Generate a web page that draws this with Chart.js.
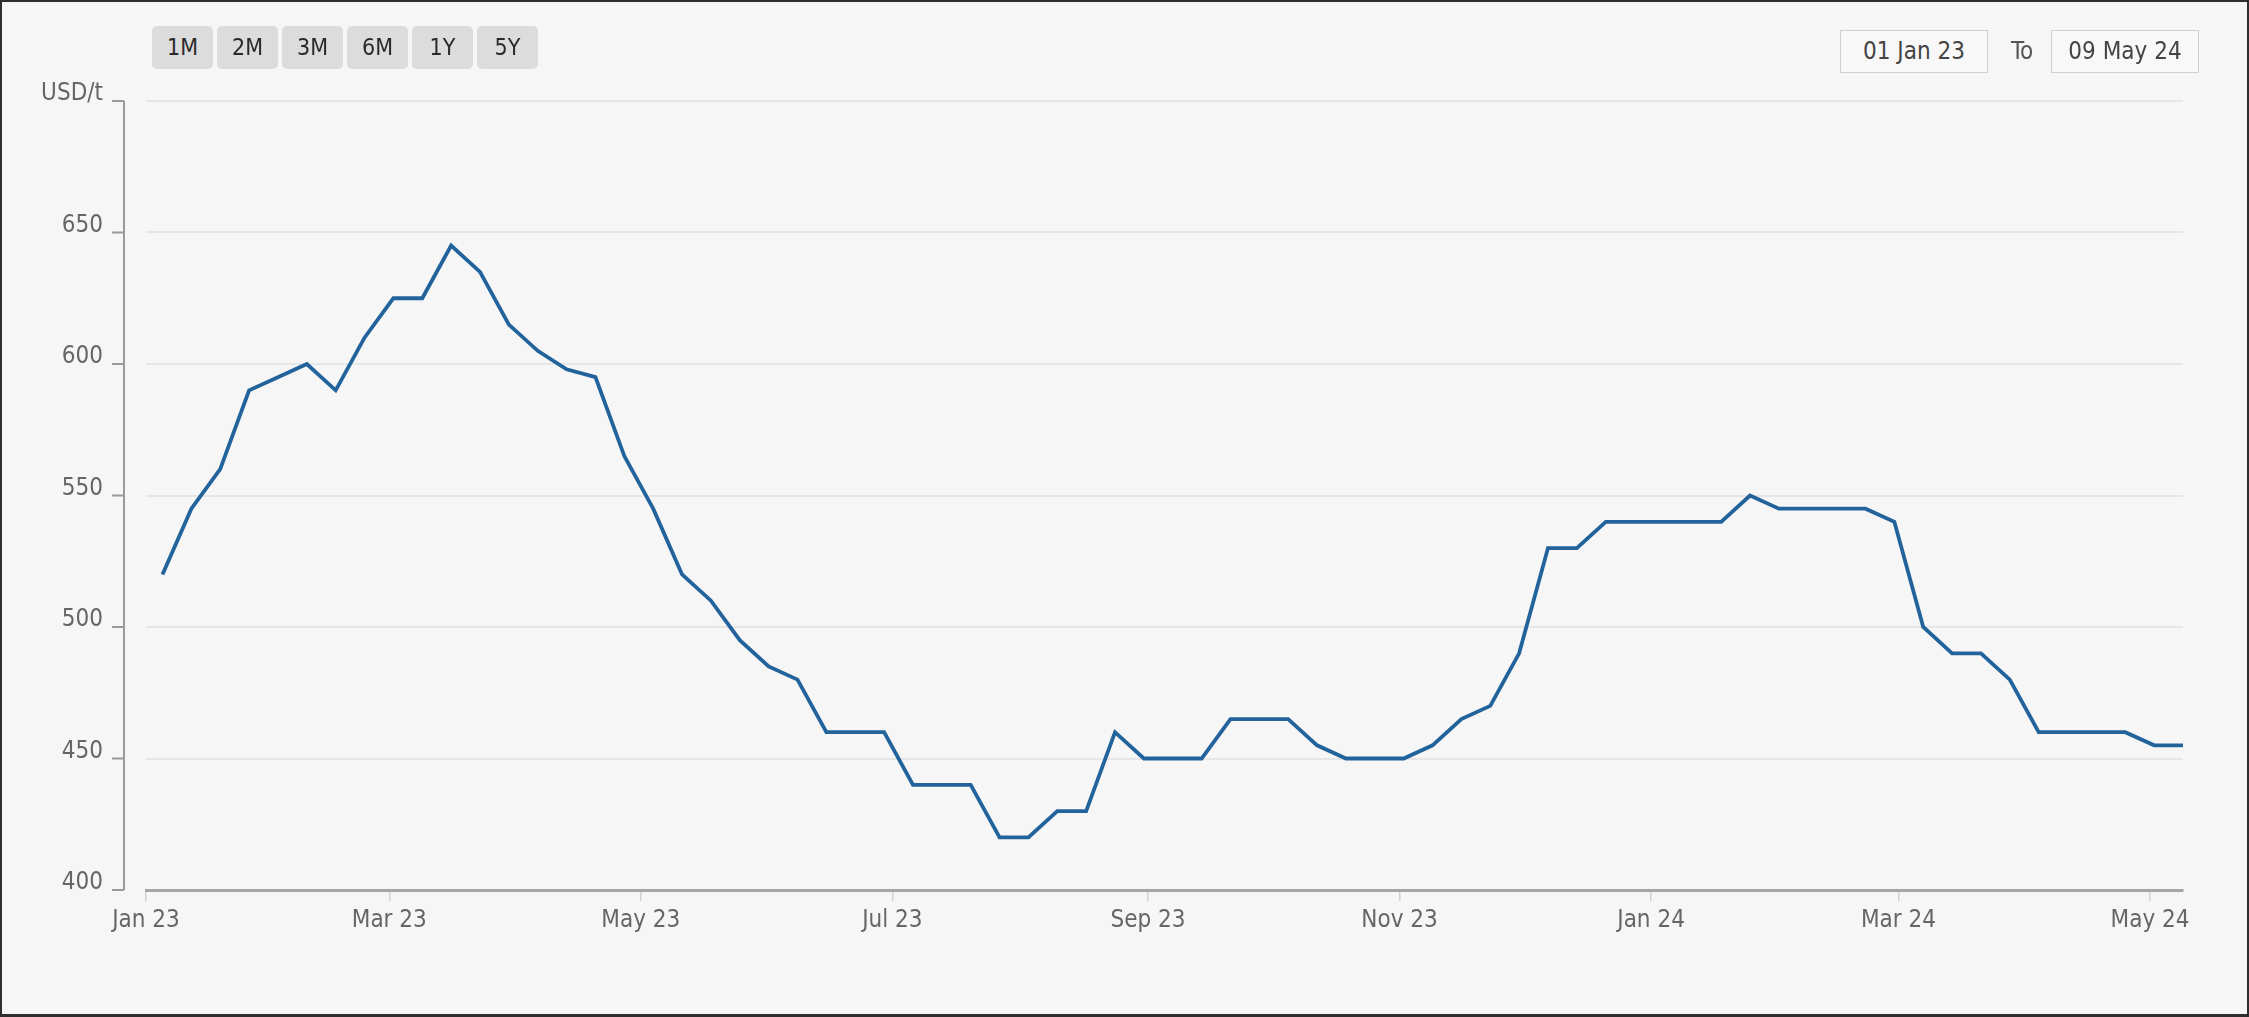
<!DOCTYPE html>
<html lang="en">
<head>
    <meta charset="UTF-8">
    <title>USD/t</title>
    <script src="https://cdn.jsdelivr.net/npm/chart.js"></script>
    <style>
        html, body { margin: 0; padding: 0; background: #f6f6f6; overflow: hidden; }
        body { font-family: 'DejaVu Sans Condensed', 'DejaVu Sans', sans-serif; }
        #priceChart { position: absolute; left: 0; top: 0; }
        .range-btn {
            position: absolute; top: 26px; height: 43px; width: 61px;
            background: #dcdcdc; border-radius: 5px; color: #2a2a2a;
            font-size: 23px; line-height: 43px; text-align: center;
        }
        .date-box {
            position: absolute; top: 30px; height: 41px; width: 146px;
            border: 1.5px solid #cfcfcf; background: #f8f8f8; color: #444;
            font-size: 24px; line-height: 41px; text-align: center;
        }
        .to-label { position: absolute; top: 30px; left: 2011px; line-height: 43px; font-size: 24px; color: #555; }
        .frame { position: absolute; left: 0; top: 0; width: 2249px; height: 1017px; box-sizing: border-box; border: 2px solid #2e2e2e; border-bottom-width: 3px; pointer-events: none; }
    </style>
</head>
<body>
    <canvas id="priceChart" width="2249" height="1017"></canvas>
    <div id="buttons"></div>
    <div class="date-box" style="left:1840px">01 Jan 23</div>
    <div class="to-label">To</div>
    <div class="date-box" style="left:2051px">09 May 24</div>
    <div class="frame"></div>
    <script>
        // weekly observations (Thursdays)
        var dates = [
            '2023-01-05', '2023-01-12', '2023-01-19', '2023-01-26',
            '2023-02-02', '2023-02-09', '2023-02-16', '2023-02-23',
            '2023-03-02', '2023-03-09', '2023-03-16', '2023-03-23', '2023-03-30',
            '2023-04-06', '2023-04-13', '2023-04-20', '2023-04-27',
            '2023-05-04', '2023-05-11', '2023-05-18', '2023-05-25',
            '2023-06-01', '2023-06-08', '2023-06-15', '2023-06-22', '2023-06-29',
            '2023-07-06', '2023-07-13', '2023-07-20', '2023-07-27',
            '2023-08-03', '2023-08-10', '2023-08-17', '2023-08-24', '2023-08-31',
            '2023-09-07', '2023-09-14', '2023-09-21', '2023-09-28',
            '2023-10-05', '2023-10-12', '2023-10-19', '2023-10-26',
            '2023-11-02', '2023-11-09', '2023-11-16', '2023-11-23', '2023-11-30',
            '2023-12-07', '2023-12-14', '2023-12-21', '2023-12-28',
            '2024-01-04', '2024-01-11', '2024-01-18', '2024-01-25',
            '2024-02-01', '2024-02-08', '2024-02-15', '2024-02-22', '2024-02-29',
            '2024-03-07', '2024-03-14', '2024-03-21', '2024-03-28',
            '2024-04-04', '2024-04-11', '2024-04-18', '2024-04-25',
            '2024-05-02', '2024-05-09'
        ];

        var prices = [
            520, 545, 560, 590, 595, 600, 590, 610, 625, 625,
            645, 635, 615, 605, 598, 595, 565, 545, 520, 510,
            495, 485, 480, 460, 460, 460, 440, 440, 440, 420,
            420, 430, 430, 460, 450, 450, 450, 465, 465, 465,
            455, 450, 450, 450, 455, 465, 470, 490, 530, 530,
            540, 540, 540, 540, 540, 550, 545, 545, 545, 545,
            540, 500, 490, 490, 480, 460, 460, 460, 460, 455,
            455
        ];

        var tickDates = ['2023-01-01', '2023-03-01', '2023-05-01', '2023-07-01', '2023-09-01',
                         '2023-11-01', '2024-01-01', '2024-03-01', '2024-05-01'];
        var tickLabels = ['Jan 23', 'Mar 23', 'May 23', 'Jul 23', 'Sep 23',
                          'Nov 23', 'Jan 24', 'Mar 24', 'May 24'];

        var rangeButtons = ['1M', '2M', '3M', '6M', '1Y', '5Y'];
        var fromDate = '2023-01-01';
        var toDate = '2024-05-09';

        var btnBox = document.getElementById('buttons');
        rangeButtons.forEach(function (b, i) {
            var d = document.createElement('div');
            d.className = 'range-btn';
            d.style.left = (152 + i * 65) + 'px';
            d.textContent = b;
            btnBox.appendChild(d);
        });

        function dayOf(s) {
            return Math.round((Date.parse(s) - Date.parse(fromDate)) / 86400000);
        }

        var points = dates.map(function (d, i) { return { x: dayOf(d), y: prices[i] }; });
        var tickDays = tickDates.map(dayOf);

        // detached y axis line with small ticks, left of the plot
        var yAxisLine = {
            id: 'yAxisLine',
            afterDraw: function (chart) {
                var ctx = chart.ctx, area = chart.chartArea, y = chart.scales.y;
                var ax = area.left - 22;
                ctx.save();
                ctx.strokeStyle = '#9a9a9a';
                ctx.lineWidth = 2;
                ctx.beginPath();
                ctx.moveTo(ax, area.top);
                ctx.lineTo(ax, area.bottom);
                y.ticks.forEach(function (t) {
                    var py = y.getPixelForValue(t.value);
                    ctx.moveTo(ax - 12, py);
                    ctx.lineTo(ax, py);
                });
                ctx.stroke();
                ctx.restore();
            }
        };

        Chart.defaults.font.family = "'DejaVu Sans Condensed', 'DejaVu Sans', sans-serif";
        Chart.defaults.font.size = 24;
        Chart.defaults.color = '#666';

        var ctx = document.getElementById('priceChart').getContext('2d');
        var priceChart = new Chart(ctx, {
            type: 'line',
            data: {
                datasets: [{
                    label: 'Price',
                    data: points,
                    borderColor: '#22639c',
                    borderWidth: 3.8,
                    pointRadius: 0,
                    tension: 0,
                    fill: false
                }]
            },
            options: {
                responsive: false,
                animation: false,
                devicePixelRatio: 1,
                layout: { padding: { top: 101, right: 66, bottom: 0, left: 0 } },
                plugins: { legend: { display: false }, tooltip: { enabled: false } },
                scales: {
                    x: {
                        type: 'linear',
                        min: 0,
                        max: dayOf(toDate),
                        afterBuildTicks: function (scale) {
                            scale.ticks = tickDays.map(function (v) { return { value: v }; });
                        },
                        afterFit: function (scale) { scale.height = 127; },
                        ticks: {
                            autoSkip: false,
                            maxRotation: 0,
                            padding: 5,
                            color: '#666',
                            callback: function (v) {
                                var i = tickDays.indexOf(v);
                                return i >= 0 ? tickLabels[i] : '';
                            }
                        },
                        grid: {
                            drawOnChartArea: false,
                            drawTicks: true,
                            tickLength: 11,
                            color: '#ccd3dd',
                            lineWidth: 1.5
                        },
                        border: { display: true, color: '#a6a6a6', width: 3 }
                    },
                    y: {
                        min: 400,
                        max: 700,
                        afterFit: function (scale) { scale.width = 146; },
                        ticks: {
                            stepSize: 50,
                            padding: 43,
                            labelOffset: -7,
                            color: '#666',
                            callback: function (v) { return v === 700 ? 'USD/t' : v; }
                        },
                        grid: { color: '#e6e6e6', lineWidth: 2, drawTicks: false },
                        border: { display: false }
                    }
                }
            },
            plugins: [yAxisLine]
        });
    </script>
</body>
</html>
